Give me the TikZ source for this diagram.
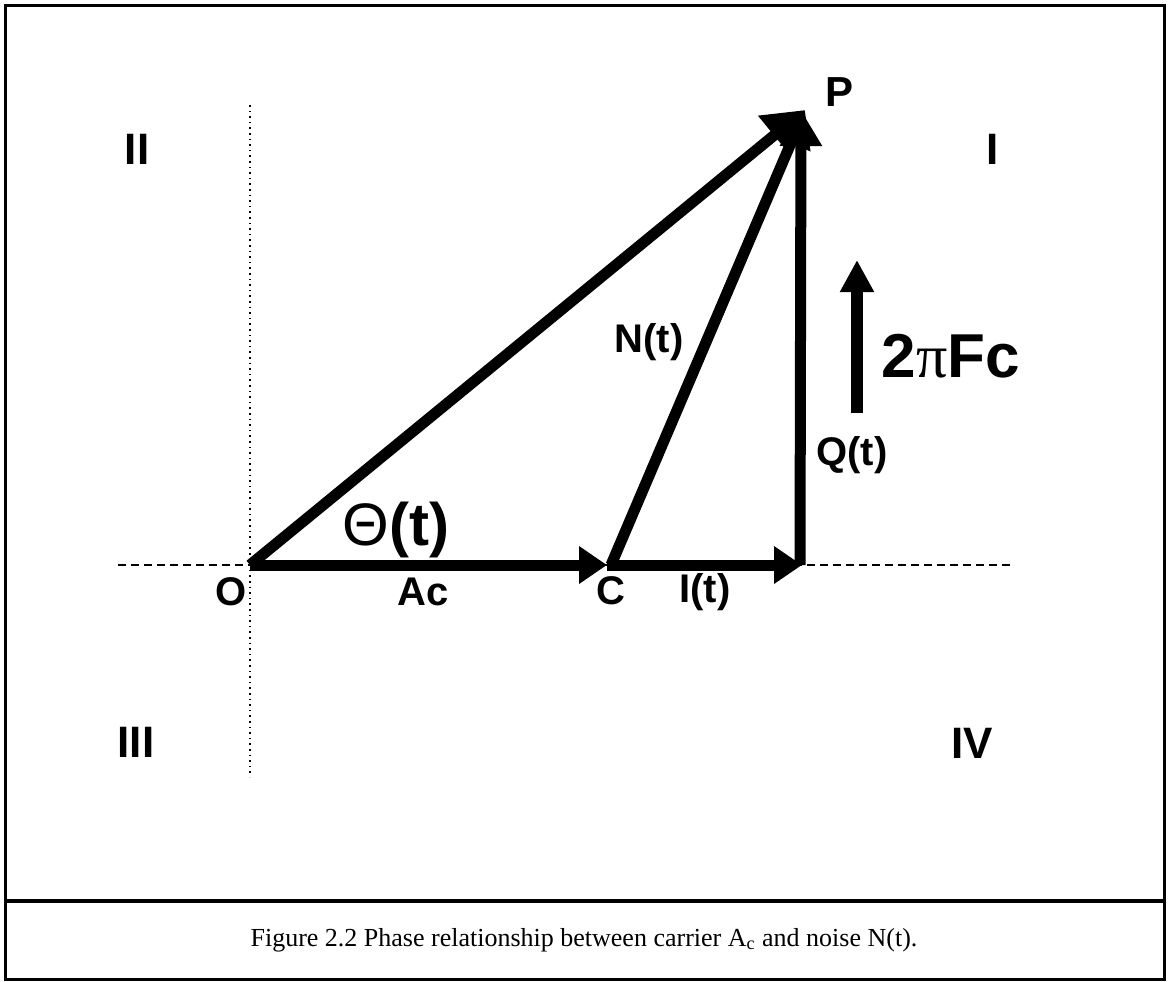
\documentclass[tikz,border=0pt]{standalone}
\usepackage{fontspec}
\setmainfont{Liberation Serif}
\setsansfont{Liberation Sans}
\usetikzlibrary{arrows.meta}

\begin{document}
\begin{tikzpicture}[x=0.5pt, y=-0.5pt,
        vec/.style={line width=5.5pt, -{Triangle[length=14pt, width=18pt]}},
        lbl/.style={font=\sffamily\bfseries\fontsize{20}{22}\selectfont, inner sep=0pt},
        quad/.style={font=\sffamily\bfseries\fontsize{22}{24}\selectfont, inner sep=0pt}]

        \useasboundingbox (0,0) rectangle (1168,981);

        % frame and caption box
        \draw[line width=1.5pt] (5,5) rectangle (1164,979);
        \draw[line width=2pt] (5,901) -- (1164,901);
        \node[font=\fontsize{13}{15}\selectfont] (cap) at (584,940)
            {Figure 2.2 Phase relationship between carrier A\textsubscript{c} and noise N(t).};

        % axes
        \draw[dotted, line width=0.8pt] (250,105) -- (250,777);
        \draw[line width=0.8pt, dash pattern=on 4pt off 2.5pt] (118,565) -- (1012,565);

        % points
        \coordinate (o) at (250,565);
        \coordinate (c) at (607,565);
        \coordinate (r) at (802,565);
        \coordinate (p) at (805,110);

        % vectors
        \draw[vec] (o) -- (c);
        \draw[vec] (c) -- (r);
        \draw[vec, -{Triangle[length=18pt, width=20pt]}] ([xshift=-1pt]r) -- ([xshift=-2pt]p);
        \draw[vec, -{Triangle[length=18pt, width=20pt]}] ([xshift=2pt]c) -- (p);
        \draw[vec, -{Triangle[length=20pt, width=24pt]}] (o) -- (p);

        % rotation
        \coordinate (wb) at (857,413);
        \coordinate (wt) at (857,260);
        \draw[line width=6pt, -{Triangle[length=16pt, width=16pt]}] (wb) -- (wt);

        % quadrants
        \node[quad] (q2) at (137,149) {II};
        \node[quad] (q1) at (993,149) {I};
        \node[quad] (q3) at (136,742) {III};
        \node[quad] (q4) at (972,743) {IV};

        % labels
        \node[lbl, font=\sffamily\bfseries\fontsize{21}{23}\selectfont] (lp) at (839,92) {P};
        \node[lbl] (lo) at (231,592) {O};
        \node[lbl] (lac) at (423,592) {Ac};
        \node[lbl] (lc) at (611,591) {C};
        \node[lbl] (li) at (705,592) {I(t)};
        \node[lbl] (ln) at (649,342) {N(t)};
        \node[lbl] (lq) at (852,455) {Q(t)};
        \node[inner sep=0pt, font=\sffamily\fontsize{30}{32}\selectfont] (lth) at (396,530)
            {Θ\textbf{(t)}};
        \node[inner sep=0pt, font=\sffamily\bfseries\fontsize{31}{34}\selectfont] (lw) at (951,356)
            {2\textmd{\rmfamily π}Fc};
\end{tikzpicture}
\end{document}
